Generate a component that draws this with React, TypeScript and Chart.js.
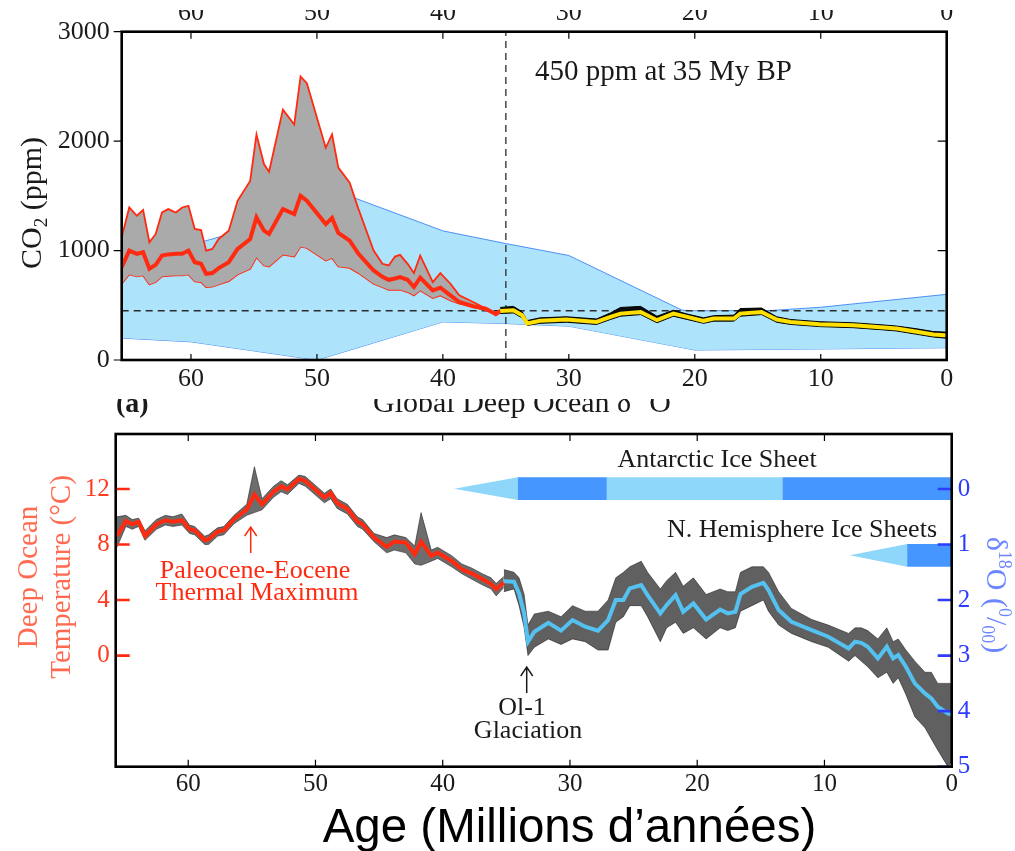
import React, { useEffect, useRef } from "react";
import { Chart, registerables } from "chart.js";

Chart.register(...registerables);

const SERIF = "'Liberation Serif', 'Times New Roman', serif";
const SANS = "'Liberation Sans', Arial, sans-serif";

// ---------- Top panel (CO2) ----------
const AGE_TICKS = [0, 10, 20, 30, 40, 50, 60];
const CO2_TICKS = [0, 1000, 2000, 3000];
const CO2_REF_PPM = 450;
const CO2_REF_AGE = 35;

// blue envelope of the CO2 model
const bandAges = [65.5, 60, 58.8, 50, 47, 40, 35, 30, 21, 20, 14, 10, 0];
const bandUpper = [870, 1050, 1090, 1381, 1480, 1180, 1064, 955, 455, 450, 452, 482, 600];
const bandLower = [200, 166, 146, 0, 104, 348, 333, 309, 113, 91, 97, 101, 112];

// grey uncertainty band with red central estimate
const grayAges = [65.5, 64.9, 64.3, 63.8, 63.3, 62.8, 62.3, 61.8, 61.2, 60.7, 60.2, 59.7, 59.2, 58.8, 58.3, 57.8, 57.0, 56.3, 55.3, 54.8, 54.2, 53.8, 52.7, 51.8, 51.3, 50.8, 49.3, 48.8, 48.3, 47.4, 46.7, 45.5, 44.8, 44.3, 43.8, 43.4, 42.8, 42.3, 41.8, 40.8, 40.2, 39.4, 38.7, 37.6, 36.6, 35.8, 35.4];
const grayUpper = [1121, 1394, 1318, 1370, 1076, 1152, 1348, 1379, 1348, 1394, 1409, 1197, 1188, 1000, 1015, 1106, 1182, 1455, 1636, 2061, 1788, 1721, 2288, 2152, 2591, 2530, 1939, 2061, 1758, 1621, 1379, 1000, 879, 864, 945, 961, 879, 794, 955, 712, 794, 697, 591, 530, 470, 424, 450];
const grayMid = [848, 1000, 970, 985, 833, 870, 955, 965, 970, 970, 1000, 894, 879, 788, 795, 840, 894, 1015, 1106, 1303, 1182, 1152, 1379, 1333, 1500, 1455, 1242, 1297, 1161, 1091, 970, 818, 760, 733, 745, 758, 733, 667, 752, 636, 661, 591, 530, 491, 470, 418, 450];
const grayLower = [697, 782, 764, 773, 691, 712, 764, 770, 773, 773, 782, 718, 712, 667, 670, 690, 721, 782, 833, 939, 864, 855, 964, 945, 1036, 1024, 909, 933, 855, 842, 794, 697, 665, 642, 642, 642, 621, 591, 636, 567, 591, 545, 515, 485, 455, 418, 450];

// yellow CO2 curve since 35 My with black data cloud
const co2Ages = [35.45, 34.4, 33.7, 33.3, 32.3, 30.2, 27.8, 26.7, 25.9, 24.3, 23.0, 21.7, 20.6, 19.3, 18.5, 16.9, 16.4, 14.7, 13.5, 12.4, 10.1, 7.4, 5.0, 3.97, 2.38, 1.06, 0.13, 0];
const co2Curve = [448, 455, 409, 333, 358, 370, 348, 394, 424, 439, 364, 424, 394, 358, 379, 379, 424, 439, 370, 348, 327, 318, 297, 288, 258, 233, 227, 225];
const co2CloudLo = [425, 430, 385, 315, 335, 345, 325, 370, 400, 415, 340, 400, 370, 335, 355, 355, 400, 415, 345, 325, 305, 295, 275, 265, 235, 210, 200, 200];
const co2CloudHi = [480, 490, 440, 360, 385, 395, 375, 430, 480, 490, 400, 455, 420, 385, 405, 410, 470, 475, 395, 370, 350, 340, 320, 310, 285, 260, 255, 255];

// ---------- Bottom panel (temperature / d18O) ----------
const TEMP_TICKS = [0, 4, 8, 12];
const D18O_TICKS = [0, 1, 2, 3, 4, 5];

const redAges = [65.6, 64.9, 64.4, 63.9, 63.4, 62.5, 61.8, 61.2, 60.5, 59.9, 59.5, 58.7, 58.4, 57.7, 57.2, 56.4, 55.4, 54.8, 54.2, 53.3, 52.7, 52.2, 51.3, 50.8, 49.3, 48.8, 48.3, 47.5, 46.7, 46.3, 45.4, 44.4, 43.8, 42.9, 42.2, 41.7, 40.9, 40.4, 39.3, 38.5, 37.7, 36.9, 36.2, 35.8, 35.2];
const redTemp = [8.62, 9.70, 9.46, 9.65, 8.62, 9.46, 9.75, 9.65, 9.75, 9.10, 9.03, 8.31, 8.38, 8.93, 9.03, 9.82, 10.53, 11.61, 10.89, 11.80, 12.19, 11.97, 12.73, 12.58, 11.39, 11.70, 10.98, 10.57, 9.65, 9.46, 8.50, 7.83, 8.21, 8.14, 7.30, 8.21, 7.18, 7.42, 6.82, 6.22, 5.91, 5.51, 5.15, 4.79, 5.27];
const redCloudHi = [10.0, 10.1, 9.8, 9.9, 9.0, 9.8, 10.1, 10.0, 10.2, 9.4, 9.3, 8.6, 8.7, 9.2, 9.3, 10.1, 10.9, 13.6, 11.3, 12.2, 12.6, 12.3, 13.0, 12.9, 11.7, 12.0, 11.3, 10.9, 10.0, 9.8, 8.8, 8.5, 8.7, 8.5, 7.9, 10.3, 7.6, 7.8, 7.2, 6.6, 6.3, 5.9, 5.6, 5.2, 5.7];
const redCloudLo = [7.8, 9.3, 9.1, 9.3, 8.3, 9.1, 9.4, 9.3, 9.4, 8.8, 8.7, 8.0, 8.0, 8.6, 8.7, 9.5, 10.1, 10.3, 10.5, 11.4, 11.8, 11.6, 12.4, 12.2, 11.0, 11.3, 10.6, 10.2, 9.3, 9.1, 8.2, 7.4, 7.6, 7.4, 6.6, 6.5, 6.8, 7.0, 6.4, 5.9, 5.5, 5.1, 4.8, 4.3, 4.9];

const blueAges = [35.2, 34.4, 34.0, 33.6, 33.3, 32.8, 31.7, 30.7, 29.8, 28.8, 27.8, 27.0, 26.4, 25.8, 25.3, 24.4, 23.9, 22.9, 22.4, 21.7, 21.1, 20.3, 19.3, 18.2, 17.6, 17.0, 16.6, 15.7, 14.8, 14.4, 13.6, 12.6, 11.0, 9.7, 8.1, 7.6, 7.1, 6.6, 5.8, 5.1, 4.6, 4.2, 3.6, 2.9, 2.1, 1.6, 1.1, 0.3, 0];
const blueD18O = [1.66, 1.67, 1.88, 2.24, 2.75, 2.57, 2.41, 2.55, 2.36, 2.48, 2.55, 2.36, 2.0, 2.0, 1.79, 1.73, 1.91, 2.24, 2.09, 1.91, 2.21, 2.06, 2.35, 2.17, 2.24, 2.21, 1.89, 1.76, 1.69, 1.82, 2.18, 2.39, 2.54, 2.66, 2.87, 2.75, 2.77, 2.84, 3.05, 2.84, 3.05, 2.99, 3.20, 3.50, 3.68, 3.77, 3.92, 4.04, 4.06];
const blueCloudLo = [1.45, 1.5, 1.6, 1.9, 2.45, 2.25, 2.2, 2.3, 2.1, 2.2, 2.2, 2.0, 1.6, 1.5, 1.4, 1.3, 1.5, 1.8, 1.65, 1.5, 1.75, 1.6, 1.9, 1.8, 1.85, 1.85, 1.5, 1.4, 1.4, 1.5, 1.85, 2.15, 2.35, 2.45, 2.6, 2.5, 2.5, 2.55, 2.7, 2.5, 2.75, 2.7, 2.9, 3.1, 3.3, 3.3, 3.5, 3.5, 3.5];
const blueCloudHi = [1.85, 1.8, 2.1, 2.5, 3.0, 2.85, 2.7, 2.8, 2.7, 2.75, 2.9, 2.9, 2.4, 2.3, 2.1, 2.1, 2.3, 2.75, 2.5, 2.4, 2.6, 2.5, 2.7, 2.5, 2.55, 2.5, 2.2, 2.1, 2.0, 2.2, 2.45, 2.6, 2.75, 2.85, 3.1, 3.0, 3.1, 3.2, 3.4, 3.3, 3.5, 3.4, 3.7, 4.1, 4.3, 4.5, 4.7, 5.0, 4.9];

// ice sheet periods (My): onset wedge then full / partial
const ANTARCTIC_PERIODS = [
  { from: 39.1, to: 34.1, kind: "onset" },
  { from: 34.1, to: 27.1, kind: "full" },
  { from: 27.1, to: 13.3, kind: "partial" },
  { from: 13.3, to: 0, kind: "full" },
];
const NH_PERIODS = [
  { from: 8.0, to: 3.5, kind: "onset" },
  { from: 3.5, to: 0, kind: "full" },
];

const pts = (xs: number[], ys: number[]) => xs.map((x, i) => ({ x, y: ys[i] }));

const line = (data: any, color: string, width: number, extra: any = {}) => ({
  type: "line",
  data,
  borderColor: color,
  borderWidth: width,
  pointRadius: 0,
  tension: 0,
  fill: false,
  ...extra,
});

type Run = { t: string; size: number; dy?: number; bold?: boolean };
function drawRuns(ctx: CanvasRenderingContext2D, runs: Run[], family: string, x: number, y: number, align: "left" | "center" | "right") {
  const widths = runs.map((r) => {
    ctx.font = `${r.bold ? "bold " : ""}${r.size}px ${family}`;
    return ctx.measureText(r.t).width;
  });
  const total = widths.reduce((a, b) => a + b, 0);
  let cx = align === "center" ? x - total / 2 : align === "right" ? x - total : x;
  ctx.textAlign = "left";
  ctx.textBaseline = "alphabetic";
  runs.forEach((r, i) => {
    ctx.font = `${r.bold ? "bold " : ""}${r.size}px ${family}`;
    ctx.fillText(r.t, cx, y + (r.dy || 0));
    cx += widths[i];
  });
}

function arrowUp(ctx: CanvasRenderingContext2D, x: number, y0: number, y1: number, color: string) {
  ctx.strokeStyle = color;
  ctx.lineWidth = 1.5;
  ctx.beginPath();
  ctx.moveTo(x, y0);
  ctx.lineTo(x, y1);
  ctx.moveTo(x - 6, y1 + 9);
  ctx.lineTo(x, y1);
  ctx.lineTo(x + 6, y1 + 9);
  ctx.stroke();
}

const fixedTicks = (vals: number[]) => (s: any) => {
  s.ticks = vals.map((v) => ({ value: v }));
};

const sized = (w: number | null, h: number | null) => (s: any) => {
  if (w !== null) s.width = w;
  if (h !== null) s.height = h;
  s.paddingTop = 0;
  s.paddingBottom = 0;
  s.paddingLeft = 0;
  s.paddingRight = 0;
};

const topDecor = {
  id: "topDecor",
  afterDraw(chart: any) {
    const { ctx, chartArea: ca, scales } = chart;
    const x = scales.x;
    const y = scales.y;
    ctx.save();
    ctx.strokeStyle = "#000";
    ctx.lineWidth = 1.2;
    ctx.beginPath();
    for (const v of AGE_TICKS) {
      const px = x.getPixelForValue(v);
      ctx.moveTo(px, ca.top);
      ctx.lineTo(px, ca.top + 7);
      ctx.moveTo(px, ca.bottom);
      ctx.lineTo(px, ca.bottom - 6);
    }
    for (const v of CO2_TICKS) {
      const py = y.getPixelForValue(v);
      ctx.moveTo(ca.left - 8, py);
      ctx.lineTo(ca.left, py);
      ctx.moveTo(ca.right - 9, py);
      ctx.lineTo(ca.right, py);
    }
    ctx.stroke();
    ctx.lineWidth = 2.6;
    ctx.strokeRect(ca.left, ca.top, ca.right - ca.left, ca.bottom - ca.top);

    ctx.fillStyle = "#1a1a1a";
    drawRuns(ctx, [{ t: "450 ppm at 35 My BP", size: 29 }], SERIF, 535, 70, "left");

    ctx.save();
    ctx.translate(41, 193);
    ctx.rotate(-Math.PI / 2);
    drawRuns(ctx, [{ t: "CO", size: 30 }, { t: "2", size: 19, dy: 6 }, { t: " (ppm)", size: 30 }], SERIF, 0, 0, "center");
    ctx.restore();
    ctx.restore();
  },
};

const ICE_DARK = "#4596ff";
const ICE_LIGHT = "#8fd7fa";

const bottomDecor = {
  id: "bottomDecor",
  afterDraw(chart: any) {
    const { ctx, chartArea: ca, scales } = chart;
    const x = scales.x;
    const y = scales.y;
    const y2 = scales.y2;
    ctx.save();

    // ice sheet bars
    const drawIce = (periods: any[], d0: number, d1: number) => {
      const top = y2.getPixelForValue(d0);
      const bot = y2.getPixelForValue(d1);
      const mid = (top + bot) / 2;
      for (const p of periods) {
        const xa = x.getPixelForValue(p.from);
        const xb = x.getPixelForValue(p.to);
        ctx.beginPath();
        if (p.kind === "onset") {
          ctx.fillStyle = ICE_LIGHT;
          ctx.moveTo(xa, mid);
          ctx.lineTo(xb, top);
          ctx.lineTo(xb, bot);
          ctx.closePath();
        } else {
          ctx.fillStyle = p.kind === "full" ? ICE_DARK : ICE_LIGHT;
          ctx.rect(xa, top, xb - xa, bot - top);
        }
        ctx.fill();
      }
    };
    drawIce(ANTARCTIC_PERIODS, -0.21, 0.2);
    drawIce(NH_PERIODS, 0.99, 1.4);

    // ticks
    ctx.strokeStyle = "#000";
    ctx.lineWidth = 1.2;
    ctx.beginPath();
    for (const v of AGE_TICKS) {
      const px = x.getPixelForValue(v);
      ctx.moveTo(px, ca.top);
      ctx.lineTo(px, ca.top + 7);
      ctx.moveTo(px, ca.bottom);
      ctx.lineTo(px, ca.bottom - 7);
    }
    ctx.stroke();
    ctx.lineWidth = 2.6;
    ctx.strokeStyle = "#ff2a10";
    ctx.beginPath();
    for (const v of TEMP_TICKS) {
      const py = y.getPixelForValue(v);
      ctx.moveTo(ca.left, py);
      ctx.lineTo(ca.left + 14, py);
    }
    ctx.stroke();
    ctx.strokeStyle = "#2d3cff";
    ctx.beginPath();
    for (const v of D18O_TICKS) {
      const py = y2.getPixelForValue(v);
      ctx.moveTo(ca.right - 14, py);
      ctx.lineTo(ca.right, py);
    }
    ctx.stroke();
    ctx.strokeStyle = "#000";
    ctx.lineWidth = 2.6;
    ctx.strokeRect(ca.left, ca.top, ca.right - ca.left, ca.bottom - ca.top);

    // annotations
    ctx.fillStyle = "#1a1a1a";
    drawRuns(ctx, [{ t: "Antarctic Ice Sheet", size: 26 }], SERIF, 717, 77, "center");
    drawRuns(ctx, [{ t: "N. Hemisphere Ice Sheets", size: 26 }], SERIF, 937, 147, "right");
    drawRuns(ctx, [{ t: "Ol-1", size: 26 }], SERIF, 522, 325, "center");
    drawRuns(ctx, [{ t: "Glaciation", size: 26 }], SERIF, 528, 348, "center");
    arrowUp(ctx, 526.7, 303, 277, "#1a1a1a");

    ctx.fillStyle = "#ff2a10";
    drawRuns(ctx, [{ t: "Paleocene-Eocene", size: 26 }], SERIF, 255, 188, "center");
    drawRuns(ctx, [{ t: "Thermal Maximum", size: 26 }], SERIF, 257, 210, "center");
    arrowUp(ctx, 250.7, 163, 137, "#ff2a10");

    // clipped caption from the original figure
    ctx.fillStyle = "#1a1a1a";
    drawRuns(ctx, [{ t: "(a)", size: 28, bold: true }], SERIF, 116, 22, "left");
    drawRuns(ctx, [{ t: "Global Deep Ocean δ", size: 30 }, { t: "18", size: 18, dy: -13 }, { t: "O", size: 30 }], SERIF, 373, 22, "left");

    // left title
    ctx.fillStyle = "#ff6a50";
    ctx.save();
    ctx.translate(37, 187);
    ctx.rotate(-Math.PI / 2);
    drawRuns(ctx, [{ t: "Deep Ocean", size: 29 }], SERIF, 0, 0, "center");
    ctx.restore();
    ctx.save();
    ctx.translate(70, 187);
    ctx.rotate(-Math.PI / 2);
    drawRuns(ctx, [{ t: "Temperature (°C)", size: 29 }], SERIF, 0, 0, "center");
    ctx.restore();

    // right title
    ctx.fillStyle = "#6c86ff";
    ctx.save();
    ctx.translate(987, 205);
    ctx.rotate(Math.PI / 2);
    drawRuns(
      ctx,
      [
        { t: "δ", size: 30 },
        { t: "18", size: 18, dy: -12 },
        { t: "O (", size: 30 },
        { t: "0", size: 18, dy: -12 },
        { t: "/", size: 30 },
        { t: "00", size: 18, dy: 5 },
        { t: ")", size: 30 },
      ],
      SERIF,
      0,
      0,
      "center"
    );
    ctx.restore();

    // x title
    ctx.fillStyle = "#000";
    drawRuns(ctx, [{ t: "Age (Millions d’années)", size: 47.5 }], SANS, 569.5, 452, "center");

    ctx.restore();
  },
};

const noGrid = { display: false, drawTicks: false };

function topConfig(): any {
  const datasets = [
    line(pts(bandAges, bandLower), "#4f8ff5", 1, { order: 20 }), // 0
    line(pts(bandAges, bandUpper), "#4f8ff5", 1, { order: 19, fill: 0, backgroundColor: "#aee4fb" }), // 1
    line([{ x: 65.5, y: CO2_REF_PPM }, { x: 0, y: CO2_REF_PPM }], "#2a2a2a", 1.3, { order: 18, borderDash: [7, 5] }), // 2
    line([{ x: CO2_REF_AGE, y: 0 }, { x: CO2_REF_AGE, y: 3000 }], "#2a2a2a", 1.3, { order: 17, borderDash: [7, 5] }), // 3
    line(pts(grayAges, grayLower), "#ff2a10", 1.8, { order: 16 }), // 4
    line(pts(grayAges, grayUpper), "#ff2a10", 1.8, { order: 15, fill: 4, backgroundColor: "#aaaaaa" }), // 5
    line(pts(grayAges, grayMid), "#ff2a10", 4, { order: 14 }), // 6
    line(pts(co2Ages, co2CloudLo), "#000", 1, { order: 13 }), // 7
    line(pts(co2Ages, co2CloudHi), "#000", 1, { order: 12, fill: 7, backgroundColor: "#0a0a0a" }), // 8
    line(pts(co2Ages, co2Curve), "#ffe000", 4, { order: 11 }), // 9
  ];
  const ageAxis = (pos: string, h: number, pad: number) => ({
    type: "linear",
    position: pos,
    reverse: true,
    min: 0,
    max: 65.5,
    grid: noGrid,
    border: { display: false },
    afterBuildTicks: fixedTicks(AGE_TICKS),
    afterFit: sized(null, h),
    ticks: { font: { family: SERIF, size: 26 }, color: "#1a1a1a", padding: pad, maxRotation: 0, autoSkip: false, callback: (v: any) => String(v) },
  });
  return {
    type: "line",
    data: { datasets },
    options: {
      animation: false,
      responsive: false,
      devicePixelRatio: 1,
      events: [],
      layout: { padding: 0 },
      plugins: { legend: { display: false }, tooltip: { enabled: false }, title: { display: false } },
      scales: {
        x: ageAxis("bottom", 39, 4),
        x2: ageAxis("top", 21.7, 3),
        y: {
          type: "linear",
          position: "left",
          min: 0,
          max: 3000,
          grid: noGrid,
          border: { display: false },
          afterBuildTicks: fixedTicks(CO2_TICKS),
          afterFit: sized(121.7, null),
          ticks: { font: { family: SERIF, size: 26 }, color: "#1a1a1a", padding: 12, callback: (v: any) => String(v) },
        },
        y2: {
          type: "linear",
          position: "right",
          min: 0,
          max: 3000,
          grid: noGrid,
          border: { display: false },
          afterFit: sized(68.3, null),
          ticks: { display: false },
        },
      },
    },
    plugins: [topDecor],
  };
}

function bottomConfig(): any {
  const datasets = [
    line(pts(redAges, redCloudLo), "rgba(0,0,0,0.6)", 0.8, { order: 20, yAxisID: "y" }), // 0
    line(pts(redAges, redCloudHi), "rgba(0,0,0,0.6)", 0.8, { order: 19, yAxisID: "y", fill: 0, backgroundColor: "rgba(20,20,20,0.62)" }), // 1
    line(pts(blueAges, blueCloudLo), "rgba(0,0,0,0.6)", 0.8, { order: 18, yAxisID: "y2" }), // 2
    line(pts(blueAges, blueCloudHi), "rgba(0,0,0,0.6)", 0.8, { order: 17, yAxisID: "y2", fill: 2, backgroundColor: "rgba(20,20,20,0.68)" }), // 3
    line(pts(redAges, redTemp), "#ff2a10", 4, { order: 16, yAxisID: "y" }), // 4
    line(pts(blueAges, blueD18O), "#55c1f1", 4, { order: 15, yAxisID: "y2" }), // 5
  ];
  return {
    type: "line",
    data: { datasets },
    options: {
      animation: false,
      responsive: false,
      devicePixelRatio: 1,
      events: [],
      layout: { padding: { top: 44 } },
      plugins: { legend: { display: false }, tooltip: { enabled: false }, title: { display: false } },
      scales: {
        x: {
          type: "linear",
          position: "bottom",
          reverse: true,
          min: 0,
          max: 65.7,
          grid: noGrid,
          border: { display: false },
          afterBuildTicks: fixedTicks(AGE_TICKS),
          afterFit: sized(null, 84.3),
          ticks: { font: { family: SERIF, size: 25 }, color: "#1a1a1a", padding: 3, maxRotation: 0, autoSkip: false, callback: (v: any) => String(v) },
        },
        y: {
          type: "linear",
          position: "left",
          min: -8,
          max: 15.96,
          grid: noGrid,
          border: { display: false },
          afterBuildTicks: fixedTicks(TEMP_TICKS),
          afterFit: sized(115.7, null),
          ticks: { font: { family: SERIF, size: 25 }, color: "#ff3b1f", padding: 6, callback: (v: any) => String(v) },
        },
        y2: {
          type: "linear",
          position: "right",
          reverse: true,
          min: -0.99,
          max: 5,
          grid: noGrid,
          border: { display: false },
          afterBuildTicks: fixedTicks(D18O_TICKS),
          afterFit: sized(63.3, null),
          ticks: { font: { family: SERIF, size: 25 }, color: "#2d3cff", padding: 6, callback: (v: any) => String(v) },
        },
      },
    },
    plugins: [bottomDecor],
  };
}

export default function App() {
  const topRef = useRef<HTMLCanvasElement>(null);
  const botRef = useRef<HTMLCanvasElement>(null);
  useEffect(() => {
    const c1 = new Chart(topRef.current as HTMLCanvasElement, topConfig());
    const c2 = new Chart(botRef.current as HTMLCanvasElement, bottomConfig());
    return () => {
      c1.destroy();
      c2.destroy();
    };
  }, []);
  return (
    <div style={{ position: "fixed", left: 0, top: 0, width: 1015, height: 851, background: "#fff", overflow: "hidden" }}>
      <canvas ref={botRef} width={1015} height={461} style={{ position: "absolute", left: 0, top: 390, width: 1015, height: 461, zIndex: 1 }} />
      <canvas ref={topRef} width={1015} height={389} style={{ position: "absolute", left: 0, top: 10, width: 1015, height: 389, zIndex: 2, background: "#fff" }} />
    </div>
  );
}
